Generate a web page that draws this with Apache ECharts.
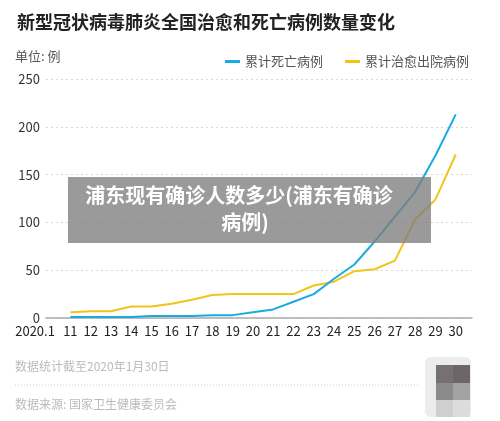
<!DOCTYPE html>
<html>
<head>
<meta charset="utf-8">
<script src="https://cdn.jsdelivr.net/npm/echarts@6/dist/echarts.min.js"></script>
<style>html,body{margin:0;padding:0;background:#fff;}#c{width:500px;height:421px;}</style>
</head>
<body>
<div id="c"></div>
<script>
var days = [11,12,13,14,15,16,17,18,19,20,21,22,23,24,25,26,27,28,29,30];
var dayLabels = [10,11,12,13,14,15,16,17,18,19,20,21,22,23,24,25,26,27,28,29,30];
var deaths = [1,1,1,1,2,2,2,3,3,6,9,17,25,41,56,80,106,132,170,213];
var cured = [6,7,7,12,12,15,19,24,25,25,25,25,34,38,49,51,60,103,124,171];
var yTicks = [0,50,100,150,200,250];
var seriesNames = ['累计死亡病例','累计治愈出院病例'];

function pairs(xs, ys){ return xs.map(function(x,i){ return [x, ys[i]]; }); }

var font = '"Noto Sans CJK SC", "Noto Sans", sans-serif';
var chart = echarts.init(document.getElementById('c'));
chart.setOption({
  backgroundColor: '#fff',
  textStyle: {fontFamily: font},
  title: {
    text: '新型冠状病毒肺炎全国治愈和死亡病例数量变化',
    left: 12, top: 8,
    textStyle: {fontSize: 18, fontWeight: 'bold', color: '#222', fontFamily: font}
  },
  legend: {
    right: 26, top: 50,
    icon: 'rect', itemWidth: 15, itemHeight: 3, itemGap: 22,
    textStyle: {fontSize: 13, color: '#555', fontFamily: font},
    data: seriesNames
  },
  grid: {left: 46, right: 28, top: 79, bottom: 103},
  xAxis: {
    type: 'value', min: 9.8, max: 30.8,
    axisLine: {show: true, lineStyle: {color: '#aaa', width: 1.5}},
    axisTick: {show: false},
    splitLine: {show: false},
    axisLabel: {
      customValues: dayLabels,
      margin: 7, fontSize: 13, color: '#222', fontFamily: font,
      formatter: function(v){ return v === 10 ? '{a|2020.1}' : String(v); },
      rich: {a: {fontSize: 13, color: '#222', padding: [0, 30, 0, 0], fontFamily: font}}
    }
  },
  yAxis: {
    type: 'value', min: 0, max: 250, interval: 50,
    axisLine: {show: false}, axisTick: {show: false},
    axisLabel: {margin: 6, fontSize: 13, color: '#333', fontFamily: font},
    splitLine: {lineStyle: {color: '#d6d6d6', type: [2, 3], width: 1}}
  },
  series: [
    {name: seriesNames[0], type: 'line', data: pairs(days, deaths), symbol: 'none',
     lineStyle: {color: '#1aabe0', width: 2}, itemStyle: {color: '#1aabe0'}, z: 3},
    {name: seriesNames[1], type: 'line', data: pairs(days, cured), symbol: 'none',
     lineStyle: {color: '#f0c419', width: 2}, itemStyle: {color: '#f0c419'}, z: 2}
  ],
  graphic: [
    {type: 'text', left: 15, top: 50, style: {text: '单位: 例', fontSize: 13, fill: '#555', fontFamily: font}},
    {type: 'rect', shape: {x: 68, y: 177, width: 363, height: 66}, style: {fill: 'rgba(125,125,125,0.78)'}, z: 100},
    {type: 'text', x: 239, y: 195, z: 101, style: {text: '浦东现有确诊人数多少(浦东有确诊', fontSize: 20, fontWeight: 'bold', fill: '#fff', align: 'center', verticalAlign: 'middle', fontFamily: font}},
    {type: 'text', x: 245, y: 222, z: 101, style: {text: '病例)', fontSize: 20, fontWeight: 'bold', fill: '#fff', align: 'center', verticalAlign: 'middle', fontFamily: font}},
    {type: 'text', x: 15, y: 366, style: {text: '数据统计截至2020年1月30日', fontSize: 12, fill: '#bbb', verticalAlign: 'middle', fontFamily: font}},
    {type: 'line', shape: {x1: 15, y1: 385, x2: 420, y2: 385}, style: {stroke: '#d0d0d0', lineWidth: 1, lineDash: [1, 2]}},
    {type: 'text', x: 15, y: 404, style: {text: '数据来源: 国家卫生健康委员会', fontSize: 12, fill: '#bbb', verticalAlign: 'middle', fontFamily: font}},
    {type: 'rect', shape: {x: 425, y: 357, width: 46, height: 60, r: 6}, style: {fill: '#ececec'}},
    {type: 'rect', shape: {x: 436, y: 365, width: 17, height: 18}, style: {fill: '#767073'}},
    {type: 'rect', shape: {x: 453, y: 365, width: 17, height: 18}, style: {fill: '#6e6666'}},
    {type: 'rect', shape: {x: 436, y: 383, width: 17, height: 17}, style: {fill: '#8a8a8a'}},
    {type: 'rect', shape: {x: 453, y: 383, width: 17, height: 17}, style: {fill: '#a2a2a2'}},
    {type: 'rect', shape: {x: 436, y: 400, width: 17, height: 17}, style: {fill: '#cfcfcf'}},
    {type: 'rect', shape: {x: 453, y: 400, width: 17, height: 17}, style: {fill: '#dcdcdc'}}
  ]
});
</script>
</body>
</html>
